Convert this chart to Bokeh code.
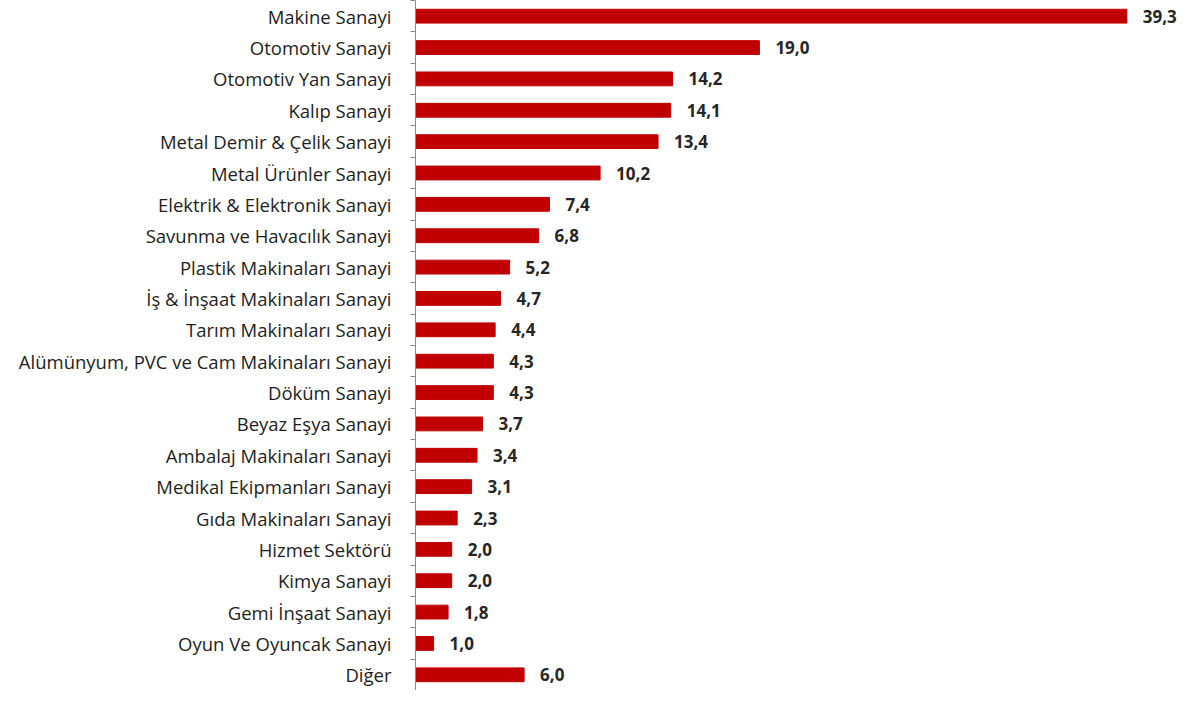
from bokeh.plotting import figure
from bokeh.models import ColumnDataSource, Range1d, FixedTicker
from bokeh.embed import file_html
from bokeh.resources import INLINE
from bokeh.core.properties import value

categories = ["Makine Sanayi", "Otomotiv Sanayi", "Otomotiv Yan Sanayi", "Kalıp Sanayi",
              "Metal Demir & Çelik Sanayi", "Metal Ürünler Sanayi", "Elektrik & Elektronik Sanayi",
              "Savunma ve Havacılık Sanayi", "Plastik Makinaları Sanayi",
              "İş & İnşaat Makinaları Sanayi", "Tarım Makinaları Sanayi",
              "Alümünyum, PVC ve Cam Makinaları Sanayi", "Döküm Sanayi", "Beyaz Eşya Sanayi",
              "Ambalaj Makinaları Sanayi", "Medikal Ekipmanları Sanayi", "Gıda Makinaları Sanayi",
              "Hizmet Sektörü", "Kimya Sanayi", "Gemi İnşaat Sanayi", "Oyun Ve Oyuncak Sanayi",
              "Diğer"]
values = [39.3, 19.0, 14.2, 14.1, 13.4, 10.2, 7.4, 6.8, 5.2, 4.7, 4.4, 4.3, 4.3, 3.7,
          3.4, 3.1, 2.3, 2.0, 2.0, 1.8, 1.0, 6.0]
value_labels = ["39,3", "19,0", "14,2", "14,1", "13,4", "10,2", "7,4", "6,8", "5,2", "4,7",
                "4,4", "4,3", "4,3", "3,7", "3,4", "3,1", "2,3", "2,0", "2,0", "1,8", "1,0", "6,0"]

n = len(categories)
ypos = [n - 1 - i for i in range(n)]

src = ColumnDataSource(dict(y=ypos, v=values, lbl=value_labels, cat=categories))

p = figure(width=1177, height=690, output_backend="svg", toolbar_location=None,
           x_range=Range1d(0, 42.1), y_range=Range1d(-0.5, n - 0.5),
           x_axis_location=None, min_border_left=415, min_border_right=0,
           min_border_top=0, min_border_bottom=0)
p.outline_line_color = None
p.grid.visible = False
p.background_fill_color = "white"
p.border_fill_color = "white"

p.hbar(y="y", right="v", left=0, height=0.44, source=src,
       fill_color="#C00000", line_color="#C00000")

p.text(x="v", y="y", text="lbl", source=src, x_offset=16,
       text_font=value("Open Sans"), text_font_size="17px", text_font_style="bold",
       text_color="#262626", text_baseline="middle", text_align="left")

ax = p.yaxis[0]
ax.ticker = FixedTicker(ticks=ypos, minor_ticks=[k - 0.5 for k in range(n + 1)])
ax.major_label_overrides = {y: c for y, c in zip(ypos, categories)}
ax.major_tick_out = 0
ax.major_tick_in = 0
ax.minor_tick_out = 5
ax.minor_tick_in = 0
ax.minor_tick_line_color = "#8a8a8a"
ax.axis_line_color = "#8a8a8a"
ax.major_label_standoff = 19
ax.major_label_text_font = "Open Sans"
ax.major_label_text_font_size = "18.5px"
ax.major_label_text_color = "#1e1e1e"

open("out.html", "w").write(file_html(p, INLINE))
